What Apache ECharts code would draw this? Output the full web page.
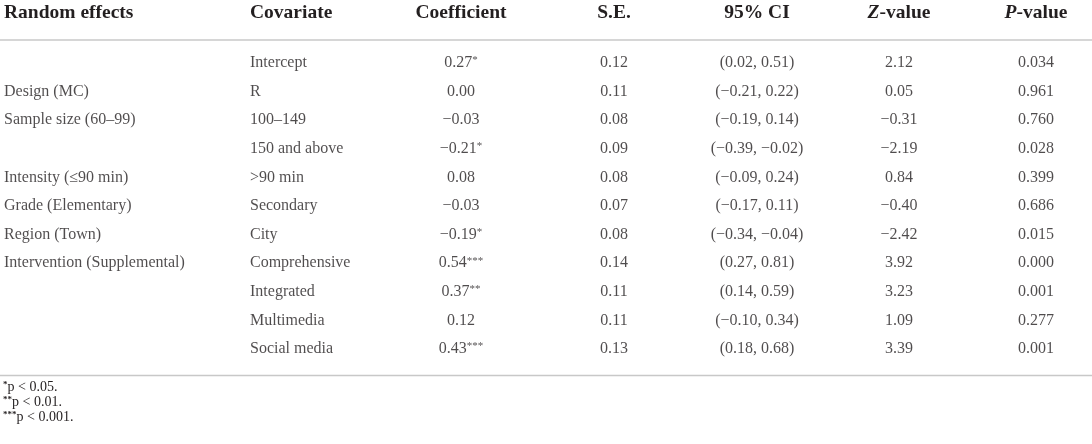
<!DOCTYPE html>
<html>
<head>
<meta charset="utf-8">
<script src="https://cdn.jsdelivr.net/npm/echarts@6/dist/echarts.min.js"></script>
<style>
html,body{margin:0;padding:0;background:#fff;}
#chart{width:1092px;height:444px;}
</style>
</head>
<body>
<div id="chart"></div>
<script>
// ---- data ----
const columnHeaders = ['Random effects', 'Covariate', 'Coefficient', 'S.E.', '95% CI', 'Z-value', 'P-value'];
const randomEffects = ['', 'Design (MC)', 'Sample size (60–99)', '', 'Intensity (≤90 min)', 'Grade (Elementary)', 'Region (Town)', 'Intervention (Supplemental)', '', '', ''];
const covariates = ['Intercept', 'R', '100–149', '150 and above', '>90 min', 'Secondary', 'City', 'Comprehensive', 'Integrated', 'Multimedia', 'Social media'];
const coefficients = [0.27, 0.00, -0.03, -0.21, 0.08, -0.03, -0.19, 0.54, 0.37, 0.12, 0.43];
const coefStars = ['*', '', '', '*', '', '', '*', '***', '**', '', '***'];
const stdErrors = [0.12, 0.11, 0.08, 0.09, 0.08, 0.07, 0.08, 0.14, 0.11, 0.11, 0.13];
const ciLower = [0.02, -0.21, -0.19, -0.39, -0.09, -0.17, -0.34, 0.27, 0.14, -0.10, 0.18];
const ciUpper = [0.51, 0.22, 0.14, -0.02, 0.24, 0.11, -0.04, 0.81, 0.59, 0.34, 0.68];
const zValues = [2.12, 0.05, -0.31, -2.19, 0.84, -0.40, -2.42, 3.92, 3.23, 1.09, 3.39];
const pValues = [0.034, 0.961, 0.760, 0.028, 0.399, 0.686, 0.015, 0.000, 0.001, 0.277, 0.001];
const footnoteStars = ['*', '**', '***'];
const footnoteTexts = ['p < 0.05.', 'p < 0.01.', 'p < 0.001.'];

// ---- layout / style ----
const FONT = '"Liberation Serif", "Times New Roman", serif';
const TEXT_COLOR = '#231f20';
const RULE_COLOR = '#c8c8c8';
const GRID_TOP = 48.7;
const GRID_HEIGHT = 314.6;
const columnLayout = [
  { anchor: 4, align: 'left' },
  { anchor: 250, align: 'left' },
  { anchor: 461, align: 'center' },
  { anchor: 614, align: 'center' },
  { anchor: 757, align: 'center' },
  { anchor: 899, align: 'center' },
  { anchor: 1036, align: 'center' }
];

function fmt(v, d) {
  return (v < 0 ? '\u2212' : '') + Math.abs(v).toFixed(d);
}

function cellText(col, i) {
  switch (col) {
    case 0: return randomEffects[i] ? '{t|' + randomEffects[i] + '}' : '';
    case 1: return '{t|' + covariates[i] + '}';
    case 2: return '{n|' + fmt(coefficients[i], 2) + '}' + (coefStars[i] ? '{s|' + coefStars[i] + '}' : '');
    case 3: return '{n|' + fmt(stdErrors[i], 2) + '}';
    case 4: return '{n|(' + fmt(ciLower[i], 2) + ', ' + fmt(ciUpper[i], 2) + ')}';
    case 5: return '{n|' + fmt(zValues[i], 2) + '}';
    case 6: return '{n|' + fmt(pValues[i], 3) + '}';
  }
  return '';
}

function headerText(h) {
  if (h === 'Z-value' || h === 'P-value') {
    return '{hi|' + h.charAt(0) + '}{h|' + h.slice(1) + '}';
  }
  return '{h|' + h + '}';
}

const cellRich = {
  t: { fontFamily: FONT, fontSize: 16, color: TEXT_COLOR, lineHeight: 18 },
  n: { fontFamily: FONT, fontSize: 16, color: TEXT_COLOR, lineHeight: 18 },
  s: { fontFamily: FONT, fontSize: 11, color: TEXT_COLOR, lineHeight: 18, verticalAlign: 'top', padding: [1, 0, 0, 0] }
};
const headerRich = {
  h: { fontFamily: FONT, fontSize: 19.5, fontWeight: 'bold', color: TEXT_COLOR },
  hi: { fontFamily: FONT, fontSize: 19.5, fontWeight: 'bold', fontStyle: 'italic', color: TEXT_COLOR }
};

const grids = [], xAxes = [], yAxes = [], series = [];
columnHeaders.forEach((h, c) => {
  const lay = columnLayout[c];
  const w = lay.align === 'left' ? 2 : 100;
  grids.push({ left: lay.anchor - w / 2, width: w, top: GRID_TOP, height: GRID_HEIGHT });
  xAxes.push({
    type: 'category', gridIndex: c, data: [h], position: 'top',
    axisLine: { show: false }, axisTick: { show: false }, splitLine: { show: false },
    axisLabel: { show: true, margin: 26, align: lay.align, formatter: headerText, rich: headerRich }
  });
  yAxes.push({ type: 'category', gridIndex: c, data: covariates, inverse: true, show: false });
  series.push({
    type: 'scatter', xAxisIndex: c, yAxisIndex: c,
    symbolSize: 1, itemStyle: { color: 'rgba(0,0,0,0)' },
    silent: true,
    data: covariates.map((cv, i) => [h, cv]),
    label: {
      show: true, position: 'inside', align: lay.align, verticalAlign: 'middle',
      formatter: p => cellText(c, p.dataIndex), rich: cellRich
    }
  });
});

const chart = echarts.init(document.getElementById('chart'), null, { renderer: 'canvas' });
chart.setOption({
  animation: false,
  backgroundColor: '#ffffff',
  title: {
    left: 3, top: 380, padding: 0,
    text: footnoteStars.map((s, i) => '{s|' + s + '}{t|' + footnoteTexts[i] + '}').join('\n'),
    textStyle: {
      rich: {
        s: { fontFamily: FONT, fontSize: 9, color: TEXT_COLOR, lineHeight: 15, verticalAlign: 'top' },
        t: { fontFamily: FONT, fontSize: 14, fontWeight: 'normal', color: TEXT_COLOR, lineHeight: 15 }
      }
    }
  },
  grid: grids,
  xAxis: xAxes,
  yAxis: yAxes,
  series: series,
  graphic: [
    { type: 'line', shape: { x1: 0, y1: 40, x2: 1092, y2: 40 }, style: { stroke: RULE_COLOR, lineWidth: 1.5 }, silent: true },
    { type: 'line', shape: { x1: 0, y1: 375.5, x2: 1092, y2: 375.5 }, style: { stroke: RULE_COLOR, lineWidth: 1.5 }, silent: true }
  ]
});
</script>
</body>
</html>
